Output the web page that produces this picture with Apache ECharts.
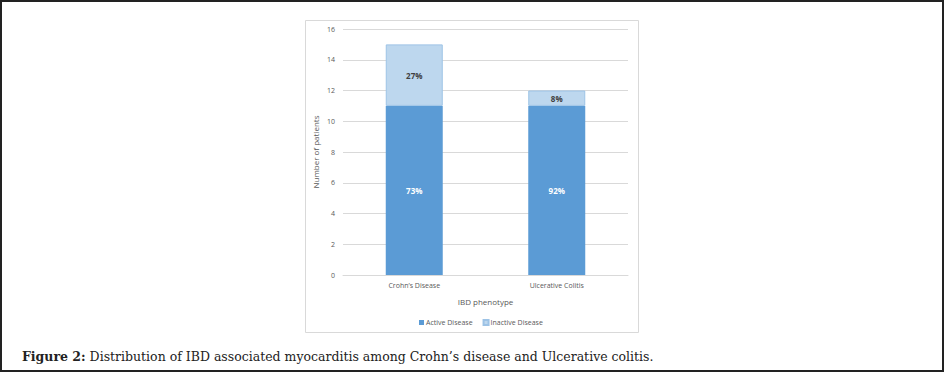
<!DOCTYPE html>
<html lang="en">
<head>
    <meta charset="UTF-8">
    <title>IBD myocarditis</title>
    <script type="text/javascript" src="https://cdn.jsdelivr.net/npm/echarts@6/dist/echarts.min.js"></script>
    <style>
        *{
            margin:0;
            padding:0;
        }
        body {
            background:#fff;
        }
        #main {
            width:947px;
            height:381px;
        }
    </style>
</head>
<body>
<div id="main"></div>
<script type="text/javascript">
    // data
    var categories = ['Crohn\u2019s Disease', 'Ulcerative Colitis'];
    var activeVals = [11, 11];
    var inactiveVals = [4, 1];
    var activePct = ['73%', '92%'];
    var inactivePct = ['27%', '8%'];
    var yTicks = [0, 16, 2];   // min, max, step

    var myChart = echarts.init(document.getElementById('main'), null, {renderer: 'svg'});

    var chartFont = 'Open Sans';
    var grey = '#595959';

    var option = {
        animation: false,
        color: ['#5B9BD5', '#BDD7EE'],
        graphic: [
            // outer frame
            {
                type: 'rect',
                shape: {x: 1, y: 1, width: 942, height: 370},
                style: {fill: 'none', stroke: '#222', lineWidth: 2},
                silent: true
            },
            // chart area box
            {
                type: 'rect',
                shape: {x: 305.5, y: 20.5, width: 333, height: 312},
                style: {fill: 'none', stroke: '#d9d9d9', lineWidth: 1},
                silent: true
            },
            // caption
            {
                type: 'text',
                left: 22,
                top: 350,
                style: {
                    text: '{b|Figure 2:} Distribution of IBD associated myocarditis among Crohn\u2019s disease and Ulcerative colitis.',
                    font: '12.5px "DejaVu Serif"',
                    fill: '#222',
                    rich: {
                        b: {fontWeight: 'bold', fontSize: 12.5, fontFamily: 'DejaVu Serif', fill: '#222'}
                    }
                }
            }
        ],
        legend: {
            data: ['Active Disease', 'Inactive Disease'],
            left: 414,
            top: 314,
            itemWidth: 5,
            itemHeight: 5,
            itemGap: 10,
            icon: 'rect',
            textStyle: {fontFamily: chartFont, fontSize: 7, color: grey, padding: [0, 0, 0, -3]}
        },
        grid: {
            left: 343,
            right: 319,
            top: 29,
            bottom: 106
        },
        xAxis: {
            type: 'category',
            data: categories,
            name: 'IBD phenotype',
            nameLocation: 'middle',
            nameGap: 22,
            nameTextStyle: {fontFamily: chartFont, fontSize: 8, color: grey},
            axisLine: {lineStyle: {color: '#d9d9d9'}},
            axisTick: {show: false},
            axisLabel: {fontFamily: chartFont, fontSize: 7, color: grey, margin: 7}
        },
        yAxis: {
            type: 'value',
            min: yTicks[0],
            max: yTicks[1],
            interval: yTicks[2],
            name: 'Number of patients',
            nameLocation: 'middle',
            nameGap: 24,
            nameTextStyle: {fontFamily: chartFont, fontSize: 8, color: grey},
            axisLine: {show: false},
            axisTick: {show: false},
            axisLabel: {fontFamily: chartFont, fontSize: 7, color: grey, margin: 8},
            splitLine: {lineStyle: {color: '#d9d9d9'}}
        },
        series: [
            {
                name: 'Active Disease',
                type: 'bar',
                stack: 'total',
                barWidth: '40%',
                data: activeVals,
                itemStyle: {color: '#5B9BD5'},
                label: {
                    show: true,
                    position: 'inside',
                    formatter: function (p) { return activePct[p.dataIndex]; },
                    fontFamily: chartFont,
                    fontSize: 8,
                    fontWeight: 'bold',
                    color: '#fff'
                }
            },
            {
                name: 'Inactive Disease',
                type: 'bar',
                stack: 'total',
                data: inactiveVals,
                itemStyle: {color: '#BDD7EE', borderColor: '#9DC3E6', borderWidth: 1},
                label: {
                    show: true,
                    position: 'inside',
                    formatter: function (p) { return inactivePct[p.dataIndex]; },
                    fontFamily: chartFont,
                    fontSize: 8,
                    fontWeight: 'bold',
                    color: '#404040'
                }
            }
        ]
    };

    myChart.setOption(option);
</script>
</body>
</html>
